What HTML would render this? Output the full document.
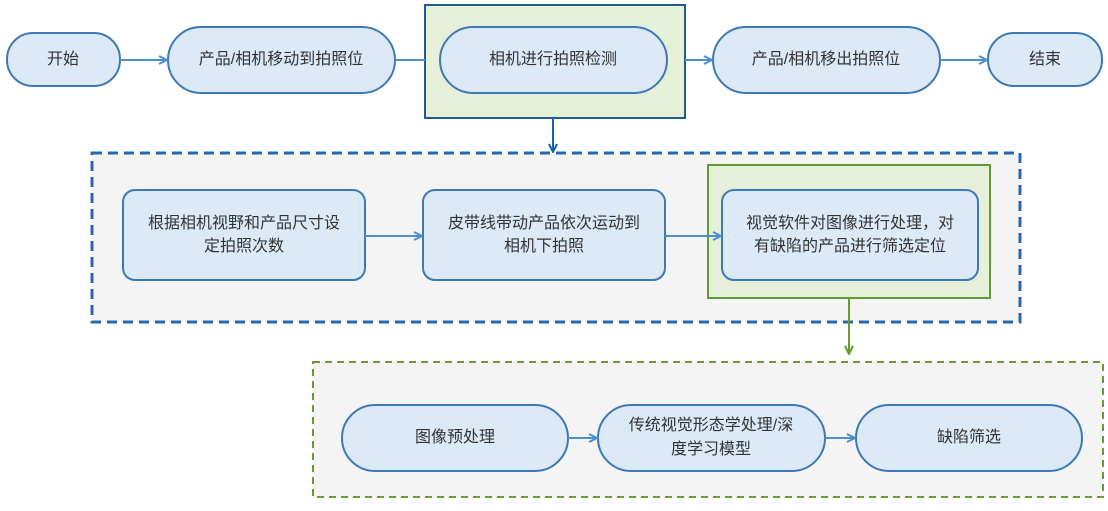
<!DOCTYPE html>
<html><head><meta charset="utf-8"><style>
body{margin:0;background:#fff;}
svg text{font-family:"Liberation Sans","Noto Sans CJK SC",sans-serif;font-size:16px;fill:#333;text-anchor:middle;dominant-baseline:middle;}
</style></head><body>
<svg width="1108" height="506" viewBox="0 0 1108 506" xmlns="http://www.w3.org/2000/svg">
<defs>
<marker id="ab" markerWidth="10" markerHeight="10" refX="8" refY="5" orient="auto" markerUnits="userSpaceOnUse"><path d="M1,1 L9,5 L1,9" fill="none" stroke="#4a90d0" stroke-width="2"/></marker>
<marker id="ad" markerWidth="10" markerHeight="10" refX="8" refY="5" orient="auto" markerUnits="userSpaceOnUse"><path d="M1,1 L9,5 L1,9" fill="none" stroke="#1f5fa8" stroke-width="2"/></marker>
<marker id="ag" markerWidth="10" markerHeight="10" refX="8" refY="5" orient="auto" markerUnits="userSpaceOnUse"><path d="M1,1 L9,5 L1,9" fill="none" stroke="#6a9a30" stroke-width="2"/></marker>
</defs>
<rect width="1108" height="506" fill="#fff"/>
<rect x="425" y="5" width="260" height="113" fill="#e6f0d8" stroke="#1f5c8f" stroke-width="2"/>
<g fill="#dce9f7" stroke="#3d79b5" stroke-width="2">
<rect x="7" y="33" width="113" height="53" rx="26"/>
<rect x="168" y="27" width="227" height="66" rx="33"/>
<rect x="440" y="27" width="227" height="66" rx="33"/>
<rect x="713" y="27" width="227" height="66" rx="33"/>
<rect x="988" y="33" width="114" height="53" rx="26"/>
</g>
<g stroke="#4a90d0" stroke-width="2" fill="none">
<line x1="120" y1="60" x2="166" y2="60" marker-end="url(#ab)"/>
<line x1="395" y1="60" x2="425" y2="60"/>
<line x1="685" y1="60" x2="711" y2="60" marker-end="url(#ab)"/>
<line x1="940" y1="60" x2="986" y2="60" marker-end="url(#ab)"/>
</g>
<text x="63" y="60">开始</text>
<text x="281" y="60">产品/相机移动到拍照位</text>
<text x="553" y="60">相机进行拍照检测</text>
<text x="826" y="60">产品/相机移出拍照位</text>
<text x="1045" y="60">结束</text>
<line x1="553" y1="118" x2="553" y2="151" stroke="#1f5fa8" stroke-width="2" marker-end="url(#ad)"/>
<rect x="92" y="153" width="928" height="169" fill="#f4f4f4" stroke="#2a68ad" stroke-width="3" stroke-dasharray="10,6"/>
<rect x="708" y="165" width="282" height="133" fill="#e6f0d8" stroke="#5f9a35" stroke-width="2"/>
<g fill="#dce9f7" stroke="#3d79b5" stroke-width="2">
<rect x="123" y="190" width="242" height="90" rx="12"/>
<rect x="423" y="190" width="242" height="90" rx="12"/>
<rect x="722" y="190" width="256" height="90" rx="12"/>
</g>
<g stroke="#4a90d0" stroke-width="2">
<line x1="365" y1="236" x2="421" y2="236" marker-end="url(#ab)"/>
<line x1="665" y1="236" x2="720" y2="236" marker-end="url(#ab)"/>
</g>
<text x="244" y="224">根据相机视野和产品尺寸设</text><text x="244" y="247">定拍照次数</text>
<text x="544" y="224">皮带线带动产品依次运动到</text><text x="544" y="247">相机下拍照</text>
<text x="850" y="224">视觉软件对图像进行处理，对</text><text x="850" y="247">有缺陷的产品进行筛选定位</text>
<line x1="849" y1="298" x2="849" y2="353" stroke="#6a9a30" stroke-width="2" marker-end="url(#ag)"/>
<rect x="313" y="362" width="790" height="135" fill="#f4f4f4" stroke="#6a9a30" stroke-width="2" stroke-dasharray="7,5"/>
<g fill="#dce9f7" stroke="#3d79b5" stroke-width="2">
<rect x="342" y="405" width="226" height="66" rx="33"/>
<rect x="598" y="405" width="227" height="66" rx="33"/>
<rect x="856" y="405" width="226" height="66" rx="33"/>
</g>
<g stroke="#4a90d0" stroke-width="2">
<line x1="568" y1="438" x2="596" y2="438" marker-end="url(#ab)"/>
<line x1="825" y1="438" x2="854" y2="438" marker-end="url(#ab)"/>
</g>
<text x="455" y="438">图像预处理</text>
<text x="711" y="426">传统视觉形态学处理/深</text><text x="711" y="450">度学习模型</text>
<text x="969" y="438">缺陷筛选</text>
</svg>
</body></html>
